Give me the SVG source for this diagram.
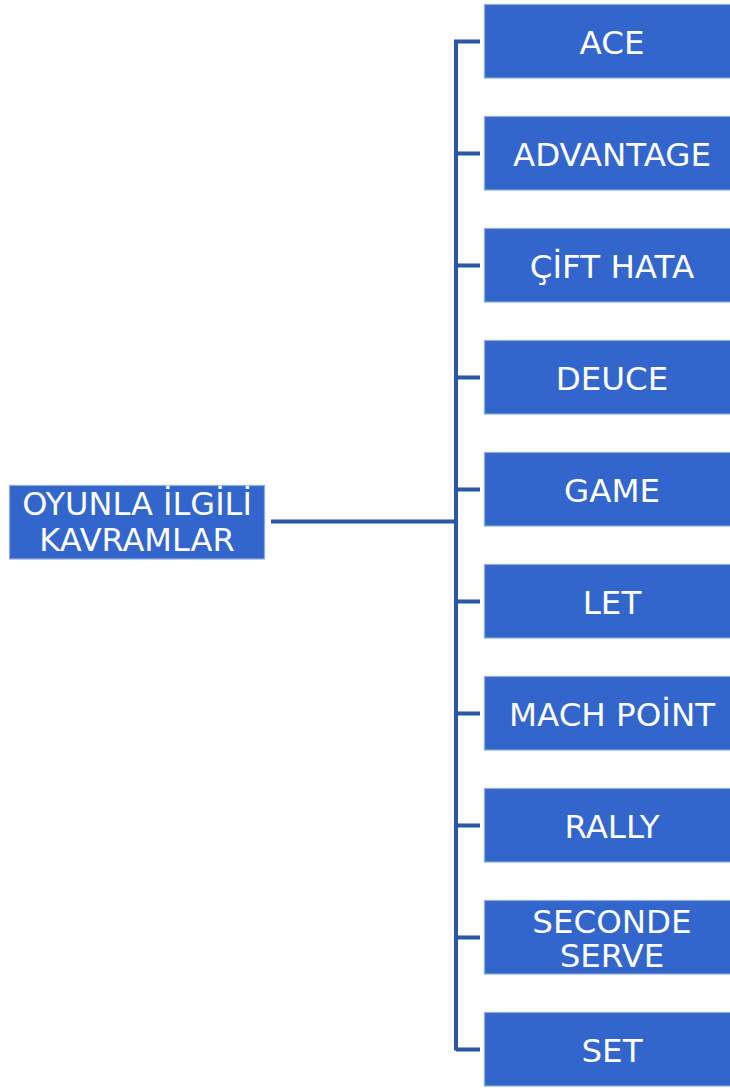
<svg xmlns="http://www.w3.org/2000/svg" width="730" height="1090" viewBox="0 0 730 1090">
<style>
.box{fill:#3366CC;stroke:#8FAADC;stroke-width:1.2}
.t{fill:#FFFFFF;font-family:Verdana,"DejaVu Sans",sans-serif;font-size:32.5px;text-anchor:middle}
.r{font-size:32px}
.c{fill:none;stroke:#2B55A6;stroke-width:4;stroke-linecap:butt}
</style>
<rect width="730" height="1090" fill="#FFFFFF"/>
<g id="connectors">
<path class="c" d="M271 521.5H456"/>
<path class="c" d="M456 1050.5V41.5H480"/>
<path class="c" d="M456 153.5H480M456 265.5H480M456 377.5H480M456 489.5H480M456 601.5H480M456 713.5H480M456 825.5H480M456 937.5H480M456 1049.5H480"/>
</g>
<g id="root">
<rect class="box" x="9.5" y="485.5" width="255" height="73.5"/>
<text class="t r" x="137" y="515">OYUNLA İLGİLİ</text>
<text class="t r" x="137" y="551">KAVRAMLAR</text>
</g>
<g id="n1"><rect class="box" x="484.5" y="4.5" width="260" height="73.5"/><text class="t" x="612" y="53.5">ACE</text></g>
<g id="n2"><rect class="box" x="484.5" y="116.5" width="260" height="73.5"/><text class="t" x="612" y="165.5">ADVANTAGE</text></g>
<g id="n3"><rect class="box" x="484.5" y="228.5" width="260" height="73.5"/><text class="t" x="612" y="277.5">ÇİFT HATA</text></g>
<g id="n4"><rect class="box" x="484.5" y="340.5" width="260" height="73.5"/><text class="t" x="612" y="389.5">DEUCE</text></g>
<g id="n5"><rect class="box" x="484.5" y="452.5" width="260" height="73.5"/><text class="t" x="612" y="501.5">GAME</text></g>
<g id="n6"><rect class="box" x="484.5" y="564.5" width="260" height="73.5"/><text class="t" x="612" y="613.5">LET</text></g>
<g id="n7"><rect class="box" x="484.5" y="676.5" width="260" height="73.5"/><text class="t" x="612" y="725.5">MACH POİNT</text></g>
<g id="n8"><rect class="box" x="484.5" y="788.5" width="260" height="73.5"/><text class="t" x="612" y="837.5">RALLY</text></g>
<g id="n9"><rect class="box" x="484.5" y="900.5" width="260" height="73.5"/><text class="t" x="612" y="932.5">SECONDE</text><text class="t" x="612" y="966.5">SERVE</text></g>
<g id="n10"><rect class="box" x="484.5" y="1012.5" width="260" height="73.5"/><text class="t" x="612" y="1061.5">SET</text></g>
</svg>
